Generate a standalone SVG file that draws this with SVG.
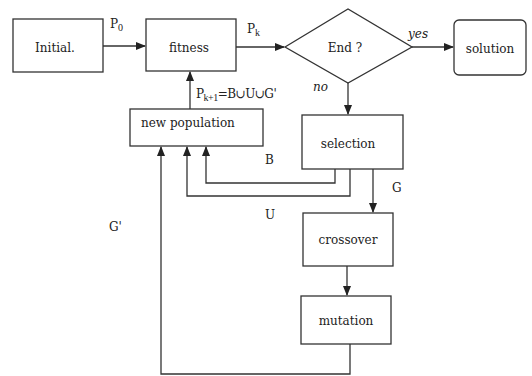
<svg xmlns="http://www.w3.org/2000/svg" width="532" height="376" viewBox="0 0 532 376">
<style>
.b{fill:#fff;stroke:#333;stroke-width:1.3}
.c{fill:none;stroke:#333;stroke-width:1.3}
text{font-family:"DejaVu Serif","Liberation Serif",serif;font-size:12px;fill:#222}
.m{text-anchor:middle}
.s{font-size:10px;font-family:"Liberation Serif",serif}
</style>
<defs>
<marker id="a" markerWidth="10" markerHeight="8" refX="9" refY="4" orient="auto" markerUnits="userSpaceOnUse">
<path d="M0,0 L10,4 L0,8 z" fill="#222"/>
</marker>
</defs>
<rect width="532" height="376" fill="#fff"/>
<g id="initial"><rect class="b" x="13" y="19" width="90" height="53"/><text class="m" x="55" y="52">Initial.</text></g>
<g id="fitness"><rect class="b" x="146" y="19" width="90" height="52"/><text class="m" x="189" y="52">fitness</text></g>
<g id="end"><polygon class="b" points="285,47 348,9 412,47 348,83"/><text class="m" x="345" y="52">End ?</text></g>
<g id="solution"><rect class="b" x="454" y="20" width="72" height="55" rx="5"/><text class="m" x="490" y="53">solution</text></g>
<g id="newpop"><rect class="b" x="130" y="109" width="133" height="37"/><text x="141" y="127">new population</text></g>
<g id="selection"><rect class="b" x="302" y="115" width="101" height="54"/><text class="m" x="348" y="148">selection</text></g>
<g id="crossover"><rect class="b" x="303" y="213" width="90" height="53"/><text class="m" x="348" y="244">crossover</text></g>
<g id="mutation"><rect class="b" x="301" y="296" width="90" height="48"/><text class="m" x="346" y="325">mutation</text></g>
<g id="connectors">
<path class="c" d="M103,46 H145" marker-end="url(#a)"/>
<path class="c" d="M236,47 H284" marker-end="url(#a)"/>
<path class="c" d="M412,47 H453" marker-end="url(#a)"/>
<path class="c" d="M348,83 V114" marker-end="url(#a)"/>
<path class="c" d="M190,109 V72" marker-end="url(#a)"/>
<path class="c" d="M335,169 V183 H206 V147" marker-end="url(#a)"/>
<path class="c" d="M350,169 V196 H187 V147" marker-end="url(#a)"/>
<path class="c" d="M373,169 V212" marker-end="url(#a)"/>
<path class="c" d="M347,266 V295" marker-end="url(#a)"/>
<path class="c" d="M350,344 V374 H161 V147" marker-end="url(#a)"/>
</g>
<g id="labels">
<text x="110" y="28">P<tspan class="s" dy="3">0</tspan></text>
<text x="247" y="33">P<tspan class="s" dy="3">k</tspan></text>
<text x="408" y="38" font-style="italic" font-size="11">yes</text>
<text x="313" y="91" font-style="italic" font-size="9">no</text>
<text x="196" y="98" letter-spacing="-0.5">P<tspan class="s" dy="3">k+1</tspan><tspan dy="-3">=B∪U∪G'</tspan></text>
<text x="265" y="164">B</text>
<text x="265" y="219">U</text>
<text x="392" y="192">G</text>
<text x="109" y="231">G'</text>
</g>
</svg>
